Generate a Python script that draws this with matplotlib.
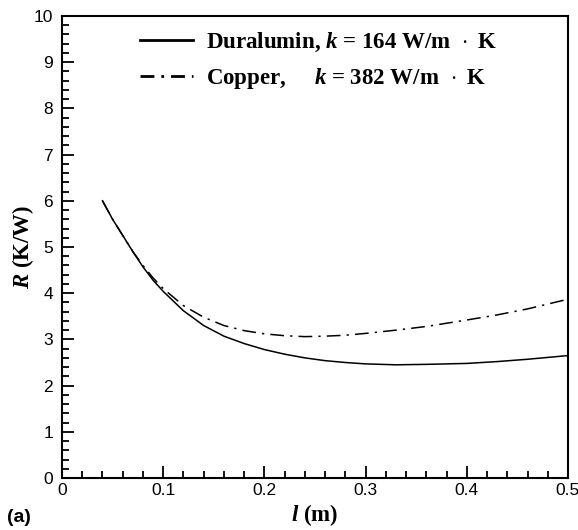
import matplotlib.pyplot as plt
from matplotlib.ticker import MultipleLocator

# values
length = [0.04, 0.05, 0.06, 0.07, 0.08, 0.09, 0.10, 0.12, 0.14, 0.16, 0.18, 0.20,
          0.22, 0.24, 0.26, 0.28, 0.30, 0.33, 0.36, 0.40, 0.43, 0.46, 0.50]
r_duralumin = [6.00, 5.60, 5.25, 4.90, 4.57, 4.28, 4.04, 3.62, 3.30, 3.07, 2.91, 2.78,
               2.68, 2.60, 2.54, 2.50, 2.47, 2.45, 2.46, 2.48, 2.52, 2.57, 2.65]
r_copper = [6.00, 5.60, 5.25, 4.90, 4.60, 4.33, 4.10, 3.73, 3.48, 3.30, 3.19, 3.12,
            3.08, 3.06, 3.07, 3.09, 3.13, 3.20, 3.28, 3.42, 3.53, 3.66, 3.87]

labels = ['Duralumin, $k$ = 164 W/m $\\,\\cdot$ K',
          'Copper,     $k$ = 382 W/m $\\,\\cdot$ K']
xtick_labels = ['0', '0.1', '0.2', '0.3', '0.4', '0.5']

plt.rcParams['mathtext.fontset'] = 'custom'
plt.rcParams['mathtext.rm'] = 'Liberation Serif:bold'
plt.rcParams['mathtext.it'] = 'Liberation Serif:italic:bold'
plt.rcParams['mathtext.bf'] = 'Liberation Serif:bold'

fig = plt.figure(figsize=(5.78, 5.30), dpi=100)
ax = fig.add_axes([62 / 578, 1 - 478 / 530, 506 / 578, 462 / 530])

ax.plot(length, r_duralumin, color='black', lw=1.1, label=labels[0])
ax.plot(length, r_copper, color='black', lw=1.1,
        linestyle=(0, (9, 4, 1.5, 4)), label=labels[1])

ax.set_xlim(0, 0.5)
ax.set_ylim(0, 10)
ax.xaxis.set_major_locator(MultipleLocator(0.1))
ax.xaxis.set_minor_locator(MultipleLocator(0.02))
ax.yaxis.set_major_locator(MultipleLocator(1))
ax.yaxis.set_minor_locator(MultipleLocator(0.2))
ax.set_xticks([0, 0.1, 0.2, 0.3, 0.4, 0.5], xtick_labels)

ax.tick_params(which='both', direction='in', top=False, right=False,
               labelsize=12.5, width=1.3)
ax.tick_params(which='major', length=8.5)
ax.tick_params(which='minor', length=5)
ax.tick_params(axis='x', pad=3.5)
ax.tick_params(axis='y', pad=6.5)
for lab in ax.get_xticklabels() + ax.get_yticklabels():
    lab.set_family('Liberation Sans')
for sp in ax.spines.values():
    sp.set_linewidth(1.5)

ax.set_xlabel('$l$ (m)', fontsize=16.5, fontfamily='Liberation Serif',
              fontweight='bold', va='center')
ax.set_ylabel('$R$ (K/W)', fontsize=16.5, fontfamily='Liberation Serif',
              fontweight='bold', va='center')
ax.xaxis.set_label_coords(0.5, (478 - 515) / 462)
ax.yaxis.set_label_coords((23 - 62) / 506, 0.5)

leg = ax.legend(loc='upper left', bbox_to_anchor=(0.154, 0.968), frameon=False,
                borderpad=0, borderaxespad=0,
                handlelength=2.3, handletextpad=0.6, labelspacing=0.52,
                prop={'family': 'Liberation Serif', 'weight': 'bold', 'size': 16.5})
leg_lines = leg.get_lines()
for line in leg_lines:
    line.set_linewidth(2)
leg_lines[1].set_dashes((5, 2.5, 1, 2.5))

fig.text(7 / 578, 1 - 517 / 530, '(a)', fontsize=14, fontweight='bold',
         fontfamily='Liberation Sans', va='center', ha='left')

fig.savefig('out.png', dpi=100)
